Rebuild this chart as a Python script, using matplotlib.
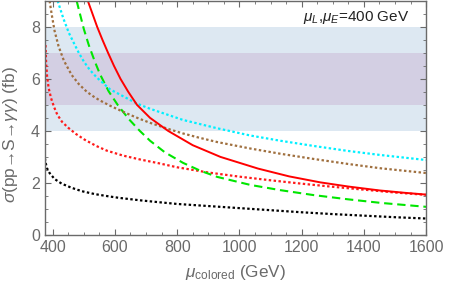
import matplotlib
matplotlib.use('Agg')
import matplotlib.pyplot as plt
from matplotlib.ticker import MultipleLocator

plt.rcParams['font.family'] = ['Liberation Sans', 'DejaVu Sans']
plt.rcParams['mathtext.fontset'] = 'custom'
plt.rcParams['mathtext.rm'] = 'Liberation Sans'
plt.rcParams['mathtext.it'] = 'Liberation Sans:italic'

# --- datos ---
rojo_mu = [513, 528, 543, 560, 578, 597, 618, 643, 671, 713, 771, 850, 939, 1060, 1160, 1260, 1350, 1450, 1530, 1600]
rojo_s = [9.0, 8.5, 8.0, 7.5, 7.0, 6.5, 6.0, 5.5, 5.0, 4.5, 4.0, 3.45, 3.0, 2.55, 2.25, 2.02, 1.86, 1.71, 1.62, 1.55]

cian_mu = [416, 435, 452, 468, 484, 500, 519, 542, 584, 671, 713, 819, 929, 1036, 1132, 1239, 1348, 1455, 1600]
cian_s = [9.0, 8.3, 7.77, 7.38, 7.0, 6.67, 6.35, 6.05, 5.6, 5.05, 4.85, 4.42, 4.1, 3.82, 3.62, 3.42, 3.23, 3.07, 2.88]

cafe_mu = [390, 398, 406, 419, 436, 461, 484, 510, 535, 552, 584, 620, 650, 680, 713, 745, 778, 819, 870, 929,
           1036, 1132, 1239, 1348, 1455, 1600]
cafe_s = [9.0, 8.4, 7.85, 7.25, 6.7, 6.15, 5.8, 5.5, 5.29, 5.17, 4.97, 4.77, 4.61, 4.46, 4.31, 4.18, 4.05, 3.9,
          3.74, 3.57, 3.32, 3.12, 2.92, 2.73, 2.56, 2.38]

verde_mu = [477, 500, 516, 535, 552, 580, 610, 645, 680, 713, 760, 819, 874, 929, 1036, 1132, 1239, 1348, 1455, 1600]
verde_s = [9.0, 7.92, 7.3, 6.68, 6.18, 5.52, 4.98, 4.45, 4.0, 3.62, 3.18, 2.77, 2.47, 2.23, 1.92, 1.72, 1.53, 1.37,
           1.23, 1.08]

rojo_pt_mu = [377, 379, 382, 387, 395, 405, 415, 430, 450, 475, 503, 540, 574, 626, 681, 739, 800, 900, 1000, 1100,
              1200, 1300, 1400, 1500, 1600]
rojo_pt_s = [7.3, 6.6, 6.1, 5.65, 5.25, 4.9, 4.62, 4.35, 4.12, 3.88, 3.66, 3.42, 3.24, 3.05, 2.9, 2.76, 2.6, 2.4,
             2.24, 2.1, 1.97, 1.85, 1.74, 1.63, 1.54]

negro_mu = [375, 377, 381, 390, 406, 429, 461, 494, 535, 581, 616, 681, 739, 800, 900, 1000, 1100, 1200, 1300, 1400,
            1500, 1600]
negro_s = [2.95, 2.8, 2.58, 2.38, 2.15, 1.97, 1.81, 1.68, 1.57, 1.48, 1.42, 1.33, 1.26, 1.19, 1.11, 1.03, 0.95, 0.87,
           0.8, 0.74, 0.68, 0.63]

banda_ancha = (4, 8)
banda_estrecha = (5, 7)

gris = '#6a6a6a'

fig = plt.figure(figsize=(4.49, 2.90), dpi=100)
ax = fig.add_axes([0.100, 0.19, 0.849, 0.807])

ax.axhspan(*banda_ancha, color='#dde8f2', lw=0, zorder=0)
ax.axhspan(*banda_estrecha, color='#d3cfe3', lw=0, zorder=0)

punteado = (0, (1.1, 1.1))
ax.plot(negro_mu, negro_s, color='black', lw=1.6, ls=punteado)
ax.plot(rojo_pt_mu, rojo_pt_s, color='#ff1a1a', lw=1.6, ls=punteado)
ax.plot(verde_mu, verde_s, color='#00e600', lw=1.5, ls=(0, (4, 2.3)))
ax.plot(cafe_mu, cafe_s, color='#a0703f', lw=1.6, ls=punteado)
ax.plot(cian_mu, cian_s, color='#00f0ff', lw=1.6, ls=punteado)
ax.plot(rojo_mu, rojo_s, color='#ff0000', lw=1.4)

ax.set_xlim(375, 1600)
ax.set_ylim(0, 9)
ax.xaxis.set_major_locator(MultipleLocator(200))
ax.xaxis.set_minor_locator(MultipleLocator(50))
ax.yaxis.set_major_locator(MultipleLocator(2))
ax.yaxis.set_minor_locator(MultipleLocator(0.5))
ax.tick_params(which='both', direction='in', top=True, right=True,
               color=gris, labelcolor=gris, labelsize=11.5)
ax.tick_params(which='major', length=4.5, width=0.8)
ax.tick_params(which='minor', length=2.5, width=0.6)
for lado in ax.spines.values():
    lado.set_color(gris)
    lado.set_linewidth(1.0)

ax.set_xlabel(r'$\mathit{\mu}_{\mathrm{colored}}$ (GeV)', color=gris, fontsize=12.3, labelpad=6)
ax.set_ylabel(r'$\mathit{\sigma}$(pp→S→$\mathit{\gamma\gamma}$) (fb)', color=gris, fontsize=12.5)
ax.yaxis.set_label_coords(-0.066, 0.43)

ax.text(0.955, 0.965, r'$\mathit{\mu}_{\mathit{L}}$,$\mathit{\mu}_{\mathit{E}}$=400 GeV',
        transform=ax.transAxes, ha='right', va='top', fontsize=11, color='#222222')

fig.savefig('out.png', dpi=100)
